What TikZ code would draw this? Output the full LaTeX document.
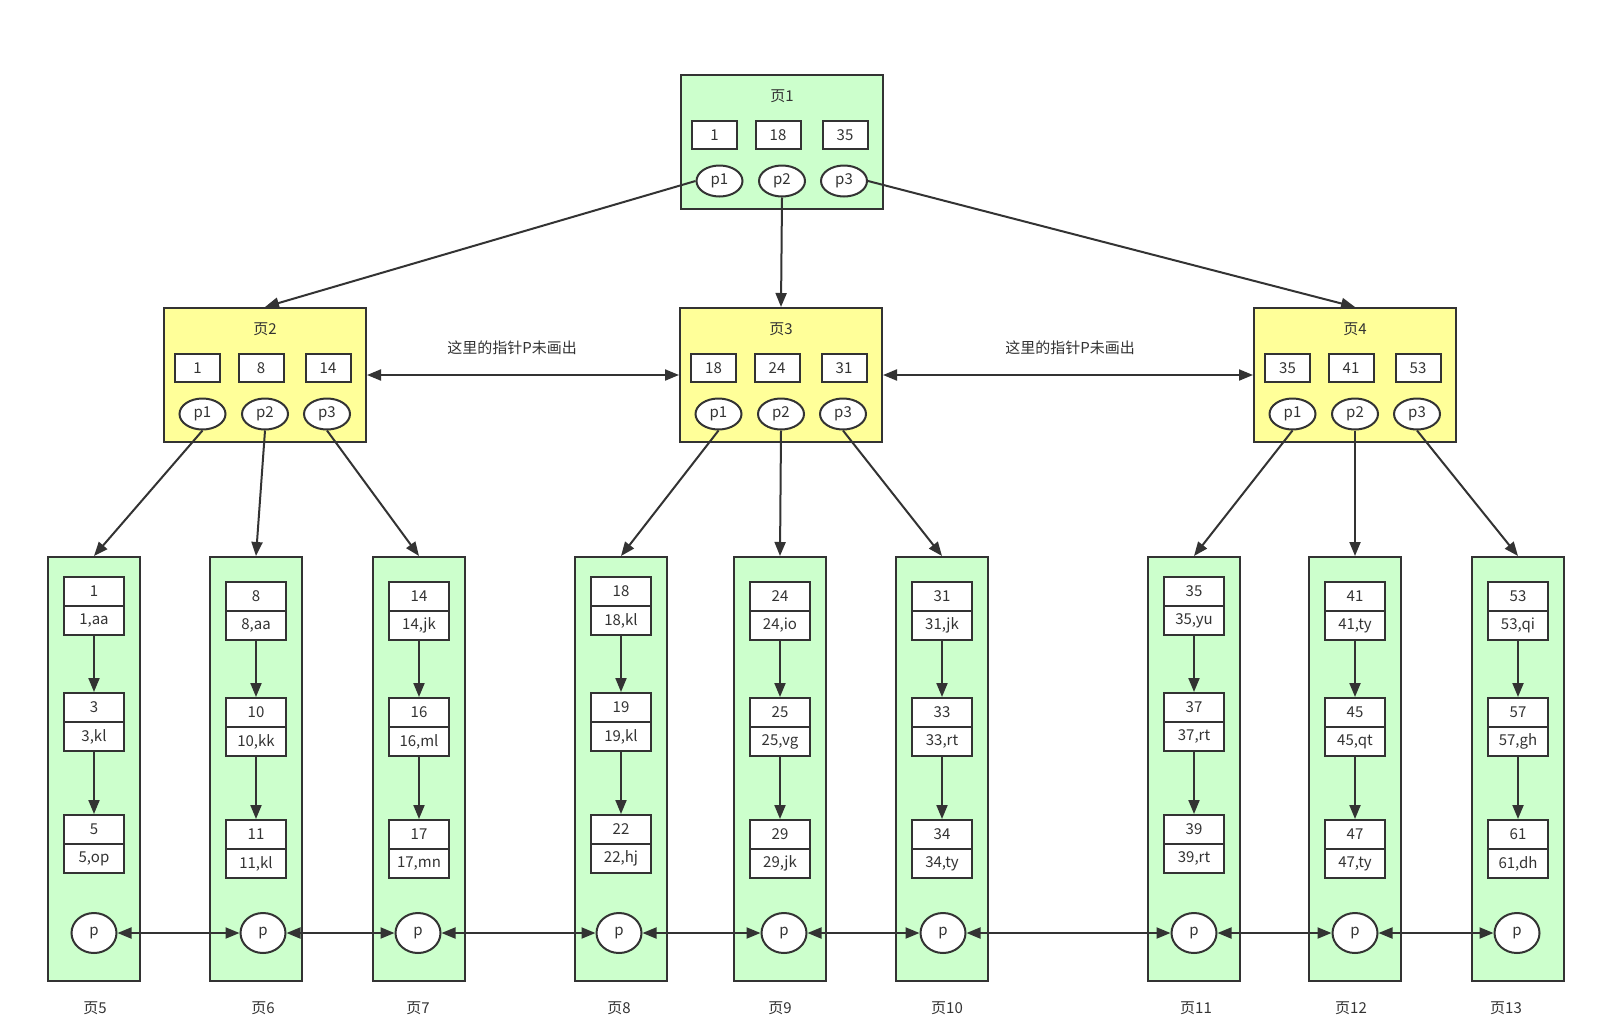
\documentclass[tikz,border=0pt]{standalone}
\usepackage{fontspec}
\setmainfont{Noto Sans CJK SC}
\usetikzlibrary{arrows.meta,shapes.geometric}
\definecolor{strk}{HTML}{333333}
\definecolor{gfill}{HTML}{CCFFCC}
\definecolor{yfill}{HTML}{FFFF99}
\definecolor{txtc}{HTML}{333333}

\newcommand\ipage[8]{%
 \node[page, fill=#4, minimum width=202pt, minimum height=134pt] (#1) at ({#2+101},{#3+67}) {};
 \node (#1t) at ({#2+101},{#3+21}) {#5};
 \node[keybox] (#1k1) at ({#2+33.5},{#3+60}) {#6};
 \node[keybox] (#1k2) at ({#2+97},{#3+60}) {#7};
 \node[keybox] (#1k3) at ({#2+164},{#3+60}) {#8};
 \node[ptr] (#1p1) at ({#2+38.5},{#3+106}) {p1};
 \node[ptr] (#1p2) at ({#2+101},{#3+106}) {p2};
 \node[ptr] (#1p3) at ({#2+163},{#3+106}) {p3};
}
\newcommand\leafpage[3]{%
 \node[page, fill=gfill, minimum width=92pt, minimum height=424pt] (#1) at ({#2+46},769) {};
 \node[lptr] (#1p) at ({#2+46+#3},933) {p};
}
\newcommand\rec[5]{%
 \node[half] (#1a) at (#2,{#3+14.5}) {#4};
 \node[half] (#1b) at (#2,{#3+43.5}) {#5};
}

\begin{document}
\begin{tikzpicture}[x=1pt,y=-1pt,
 every node/.style={font=\fontsize{15}{18}\selectfont, text=txtc},
 page/.style={draw=strk, line width=2pt, inner sep=0pt},
 keybox/.style={draw=strk, line width=2pt, fill=white, minimum width=45pt, minimum height=28pt, inner sep=0pt},
 ptr/.style={draw=strk, line width=2pt, fill=white, ellipse, minimum width=46pt, minimum height=31pt, inner sep=0pt},
 lptr/.style={draw=strk, line width=2pt, fill=white, ellipse, minimum width=45pt, minimum height=40pt, inner sep=0pt},
 half/.style={draw=strk, line width=2pt, fill=white, minimum width=60pt, minimum height=29pt, inner sep=0pt},
 conn/.style={draw=strk, line width=2pt, -{Triangle[length=14pt,width=11pt]}},
 dconn/.style={draw=strk, line width=2pt, {Triangle[length=14pt,width=11pt]}-{Triangle[length=14pt,width=11pt]}}
]
\useasboundingbox (0,0) rectangle (1621,1028);

% internal pages
\ipage{P1}{681}{75}{gfill}{页1}{1}{18}{35}
\ipage{P2}{164}{308}{yfill}{页2}{1}{8}{14}
\ipage{P3}{680}{308}{yfill}{页3}{18}{24}{31}
\ipage{P4}{1254}{308}{yfill}{页4}{35}{41}{53}

\node (n1) at (512,348) {这里的指针P未画出};
\node (n2) at (1070,348) {这里的指针P未画出};

% leaf pages
\leafpage{L5}{48}{0}
\leafpage{L6}{210}{7}
\leafpage{L7}{373}{-1}
\leafpage{L8}{575}{-2}
\leafpage{L9}{734}{4}
\leafpage{L10}{896}{1}
\leafpage{L11}{1148}{0}
\leafpage{L12}{1309}{0}
\leafpage{L13}{1472}{-1}

\rec{L5r1}{94}{577}{1}{1,aa}
\rec{L5r2}{94}{693}{3}{3,kl}
\rec{L5r3}{94}{815}{5}{5,op}
\rec{L6r1}{256}{582}{8}{8,aa}
\rec{L6r2}{256}{698}{10}{10,kk}
\rec{L6r3}{256}{820}{11}{11,kl}
\rec{L7r1}{419}{582}{14}{14,jk}
\rec{L7r2}{419}{698}{16}{16,ml}
\rec{L7r3}{419}{820}{17}{17,mn}
\rec{L8r1}{621}{577}{18}{18,kl}
\rec{L8r2}{621}{693}{19}{19,kl}
\rec{L8r3}{621}{815}{22}{22,hj}
\rec{L9r1}{780}{582}{24}{24,io}
\rec{L9r2}{780}{698}{25}{25,vg}
\rec{L9r3}{780}{820}{29}{29,jk}
\rec{L10r1}{942}{582}{31}{31,jk}
\rec{L10r2}{942}{698}{33}{33,rt}
\rec{L10r3}{942}{820}{34}{34,ty}
\rec{L11r1}{1194}{577}{35}{35,yu}
\rec{L11r2}{1194}{693}{37}{37,rt}
\rec{L11r3}{1194}{815}{39}{39,rt}
\rec{L12r1}{1355}{582}{41}{41,ty}
\rec{L12r2}{1355}{698}{45}{45,qt}
\rec{L12r3}{1355}{820}{47}{47,ty}
\rec{L13r1}{1518}{582}{53}{53,qi}
\rec{L13r2}{1518}{698}{57}{57,gh}
\rec{L13r3}{1518}{820}{61}{61,dh}

\foreach \n in {L5,L6,L7,L8,L9,L10,L11,L12,L13}{
 \draw[conn] (\n r1b) -- (\n r2a);
 \draw[conn] (\n r2b) -- (\n r3a);
}

% labels
\node (lab5) at (95,1008) {页5};
\node (lab6) at (263,1008) {页6};
\node (lab7) at (418,1008) {页7};
\node (lab8) at (619,1008) {页8};
\node (lab9) at (780,1008) {页9};
\node (lab10) at (947,1008) {页10};
\node (lab11) at (1196,1008) {页11};
\node (lab12) at (1351,1008) {页12};
\node (lab13) at (1506,1008) {页13};

% connectors
\draw[conn] (P1p1.west) -- (P2.north);
\draw[conn] (P1p2.south) -- (P3.north);
\draw[conn] (P1p3.east) -- (P4.north);
\draw[conn] (P2p1.south) -- (L5.north);
\draw[conn] (P2p2.south) -- (L6.north);
\draw[conn] (P2p3.south) -- (L7.north);
\draw[conn] (P3p1.south) -- (L8.north);
\draw[conn] (P3p2.south) -- (L9.north);
\draw[conn] (P3p3.south) -- (L10.north);
\draw[conn] (P4p1.south) -- (L11.north);
\draw[conn] (P4p2.south) -- (L12.north);
\draw[conn] (P4p3.south) -- (L13.north);

\draw[dconn] (P2.east) -- (P3.west);
\draw[dconn] (P3.east) -- (P4.west);

\draw[dconn] (L5p) -- (L6p);
\draw[dconn] (L6p) -- (L7p);
\draw[dconn] (L7p) -- (L8p);
\draw[dconn] (L8p) -- (L9p);
\draw[dconn] (L9p) -- (L10p);
\draw[dconn] (L10p) -- (L11p);
\draw[dconn] (L11p) -- (L12p);
\draw[dconn] (L12p) -- (L13p);
\end{tikzpicture}
\end{document}
